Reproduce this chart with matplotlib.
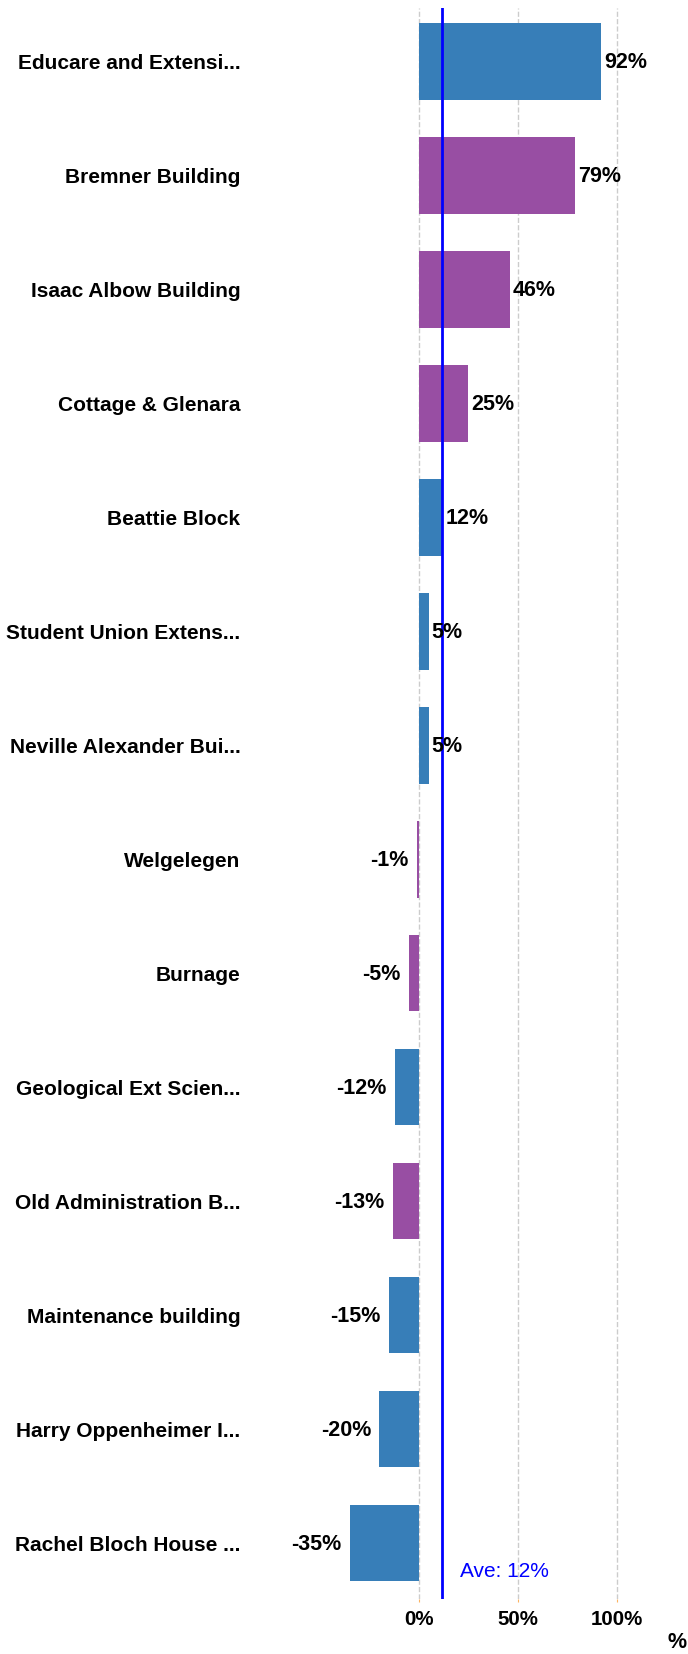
import numpy as np
import matplotlib.pyplot as plt

plt.rcParams['font.family'] = ['Liberation Sans', 'DejaVu Sans']

buildings = ['Educare and Extensi...', 'Bremner Building', 'Isaac Albow Building',
             'Cottage & Glenara', 'Beattie Block', 'Student Union Extens...',
             'Neville Alexander Bui...', 'Welgelegen', 'Burnage',
             'Geological Ext Scien...', 'Old Administration B...',
             'Maintenance building', 'Harry Oppenheimer I...', 'Rachel Bloch House ...']
change = [92, 79, 46, 25, 12, 5, 5, -1, -5, -12, -13, -15, -20, -35]
group = ['b', 'p', 'p', 'p', 'b', 'b', 'b', 'p', 'p', 'b', 'p', 'b', 'b', 'b']
average = np.mean(change)  # ~11.6, shown as 12%
xticks = [0, 50, 100]

colors = {'b': '#377EB8', 'p': '#984EA3'}

fig = plt.figure(figsize=(6.88, 16.54), dpi=100)
ax = fig.add_axes([250/688, 1 - 1599/1654, (680-250)/688, (1599-8)/1654])

y = np.arange(len(buildings))
vals = np.array(change) / 100
ax.barh(y, vals, height=0.67, color=[colors[g] for g in group], zorder=2)

fs = 15.5
for yi, v in zip(y, change):
    if v >= 0:
        ax.annotate(f'{v}%', (v/100, yi), xytext=(2, -1), textcoords='offset points',
                    ha='left', va='center', fontsize=fs, fontweight='bold', zorder=4)
    else:
        ax.annotate(f'{v}%', (v/100, yi), xytext=(-6, -1), textcoords='offset points',
                    ha='right', va='center', fontsize=fs, fontweight='bold', zorder=4)

ax.axvline(average/100, color='#0000FF', lw=2, zorder=3)
ax.text(average/100 + 0.09, 13.25, f'Ave: {average:.0f}%', color='#0000FF',
        fontsize=15, ha='left', va='center')

ax.set_xlim(-0.853, 1.318)
ax.set_ylim(13.49, -0.47)
ax.set_yticks(y)
ax.set_yticklabels(buildings, fontsize=15, fontweight='bold')
ax.set_xticks([t/100 for t in xticks])
ax.set_xticklabels([f'{t}%' for t in xticks], fontsize=14.8, fontweight='bold')
ax.tick_params(axis='y', length=0, pad=7)
ax.tick_params(axis='x', length=2, color='#FDB462', pad=6)
ax.grid(axis='x', color='#CCCCCC', linestyle='--', lw=1, zorder=0)
for s in ax.spines.values():
    s.set_visible(False)

fig.text(677/688, 1 - 1643/1654, '%', fontsize=fs, fontweight='bold',
         ha='center', va='center')

fig.savefig('out.png', dpi=100)
